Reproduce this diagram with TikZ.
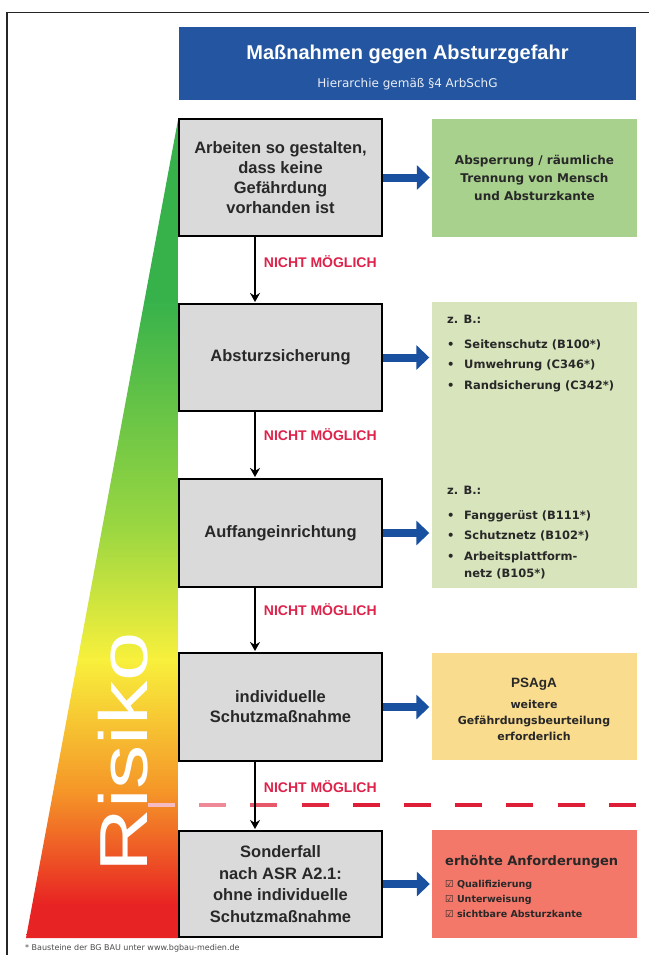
\documentclass[tikz,border=0pt]{standalone}
\usepackage{fontspec}
\setmainfont{Liberation Sans}
\newfontfamily\verdana{DejaVu Sans}
\usetikzlibrary{arrows.meta}
\definecolor{titleblue}{RGB}{35,85,160}
\definecolor{boxgray}{RGB}{218,218,218}
\definecolor{txtgray}{RGB}{40,40,40}
\definecolor{okgreen}{RGB}{169,209,142}
\definecolor{palegreen}{RGB}{216,228,188}
\definecolor{paleyellow}{RGB}{250,220,142}
\definecolor{salmon}{RGB}{244,120,105}
\definecolor{nogored}{RGB}{222,35,75}
\definecolor{dashred}{RGB}{222,30,55}
\definecolor{arrowblue}{RGB}{25,80,160}
\definecolor{rgreen}{RGB}{55,178,75}
\definecolor{rlime}{RGB}{155,215,65}
\definecolor{ryellow}{RGB}{248,240,60}
\definecolor{rorange}{RGB}{245,150,40}
\definecolor{rred}{RGB}{232,35,35}
\pgfdeclareverticalshading{risk}{100bp}{color(0bp)=(rred); color(27bp)=(rred); color(34bp)=(rorange); color(42bp)=(ryellow); color(50bp)=(rlime); color(64bp)=(rgreen); color(100bp)=(rgreen)}

\begin{document}
\begin{tikzpicture}[x=1pt,y=-1pt,>={Stealth[length=9pt,width=10pt]},
		stepbox/.style={draw=black,line width=2.4pt,fill=boxgray,text=txtgray,minimum width=202.6pt,inner sep=0pt,align=center,font=\bfseries\fontsize{16.5}{20}\selectfont},
		resultbox/.style={minimum width=205pt,inner sep=0pt,text=txtgray},
		smalltxt/.style={font=\verdana\bfseries\fontsize{11.5}{20.5}\selectfont,text=txtgray,inner sep=0pt,align=left},
		nogo/.style={text=nogored,font=\bfseries\fontsize{14}{14}\selectfont,inner sep=0pt},
		downarrow/.style={->,line width=1.8pt,shorten >=1pt},
		bluearrow/.style={arrowblue,line width=8pt,-{Triangle[length=13pt,width=24pt]},shorten >=2pt}]
		\useasboundingbox (0,0) rectangle (649,955);
		\fill[white] (0,0) rectangle (649,955);
		\draw[line width=1.3pt,black!85] (7,955) -- (7,12.5) -- (649,12.5);
		% Risiko-Keil
		\shade[shading=risk] (178,120) -- (178,938) -- (26,938) -- cycle;
		\node[rotate=90,anchor=base west,inner sep=0pt,text=white] (risiko) at (147,873) {\scalebox{1.3}[1]{\fontsize{68}{68}\selectfont Risiko}};
		% Titel
		\node[fill=titleblue,minimum width=457pt,minimum height=73pt,inner sep=0pt] (titel) at (407.5,63.5) {};
		\node[anchor=base,text=white,font=\bfseries\fontsize{20}{20}\selectfont] (titeltext) at (407.5,60) {Maßnahmen gegen Absturzgefahr};
		\node[anchor=base,text=white!90!titleblue,font=\verdana\fontsize{12}{12}\selectfont] (untertitel) at (407.5,88) {Hierarchie gemäß §4 ArbSchG};
		% Stufen
		\node[stepbox,minimum height=116.6pt] (gestalten) at (280.5,177.5) {Arbeiten so gestalten,\\dass keine\\Gefährdung\\vorhanden ist};
		\node[stepbox,minimum height=106.6pt] (sicherung) at (280.5,357.5) {Absturzsicherung};
		\node[stepbox,minimum height=107.6pt] (auffang) at (280.5,533) {Auffangeinrichtung};
		\node[stepbox,minimum height=107.6pt] (individuell) at (280.5,707) {individuelle\\Schutzmaßnahme};
		\node[stepbox,minimum height=105.6pt,font=\bfseries\fontsize{16.5}{21.5}\selectfont] (sonderfall) at (280.5,884) {Sonderfall\\nach ASR A2.1:\\ohne individuelle\\Schutzmaßnahme};
		% Ergebnisse
		\node[resultbox,fill=okgreen,minimum height=118pt,align=center,font=\verdana\bfseries\fontsize{12}{18.3}\selectfont] (trennung) at (534.5,178) {Absperrung / räumliche\\Trennung von Mensch\\und Absturzkante};
		\node[resultbox,fill=palegreen,minimum height=286pt] (beispiele) at (534,445) {};
		\node[smalltxt,anchor=base west] (zb-sicherung) at (447,389) {z. B.:\\[4.5pt]
			\makebox[17pt][l]{\textbullet}Seitenschutz (B100*)\\
			\makebox[17pt][l]{\textbullet}Umwehrung (C346*)\\
			\makebox[17pt][l]{\textbullet}Randsicherung (C342*)};
		\node[smalltxt,anchor=base west] (zb-auffang) at (447,577) {z. B.:\\[4.5pt]
			\makebox[17pt][l]{\textbullet}Fanggerüst (B111*)\\
			\makebox[17pt][l]{\textbullet}Schutznetz (B102*)\\
			\makebox[17pt][l]{\textbullet}Arbeitsplattform-\\[-3.5pt]
			\makebox[17pt][l]{}netz (B105*)};
		\node[resultbox,fill=paleyellow,minimum height=107pt] (psaga) at (534,706.5) {};
		\node[anchor=base,inner sep=0pt,text=txtgray,font=\bfseries\fontsize{13.5}{13.5}\selectfont] (psaga-titel) at (534,687) {PSAgA};
		\node[smalltxt,anchor=base,align=center,font=\verdana\bfseries\fontsize{11}{16}\selectfont] (psaga-text) at (534,740) {weitere\\Gefährdungsbeurteilung\\erforderlich};
		\node[resultbox,fill=salmon,minimum height=108pt] (anforderung) at (534.5,884) {};
		\node[smalltxt,anchor=base west,font=\verdana\bfseries\fontsize{9.5}{15}\selectfont] (anforderung-text) at (445,917) {{\fontsize{13}{15}\selectfont erhöhte Anforderungen}\\[7pt]
			{\mdseries ☑} Qualifizierung\\
			{\mdseries ☑} Unterweisung\\
			{\mdseries ☑} sichtbare Absturzkante};
		% Pfeile
		\draw[bluearrow] (gestalten.east) -- (gestalten.east -| trennung.west);
		\draw[bluearrow] (sicherung.east) -- (sicherung.east -| beispiele.west);
		\draw[bluearrow] (auffang.east) -- (auffang.east -| beispiele.west);
		\draw[bluearrow] (individuell.east) -- (individuell.east -| psaga.west);
		\draw[bluearrow] (sonderfall.east) -- (sonderfall.east -| anforderung.west);
		% Grenze
		\foreach \i in {0,...,9}{
			\pgfmathtruncatemacro\mix{min(100,30+22*\i)}
			\draw[dashred!\mix!white,line width=3.5pt] (148+51.2*\i,805) -- ++(27,0);
		}
		\coordinate (achse) at (255,0);
		\draw[downarrow] (gestalten.south -| achse) -- (sicherung.north -| achse) node[nogo,pos=0.37,right=8pt] (nm1) {NICHT MÖGLICH};
		\draw[downarrow] (sicherung.south -| achse) -- (auffang.north -| achse) node[nogo,pos=0.34,right=8pt] (nm2) {NICHT MÖGLICH};
		\draw[downarrow] (auffang.south -| achse) -- (individuell.north -| achse) node[nogo,pos=0.34,right=8pt] (nm3) {NICHT MÖGLICH};
		\draw[downarrow] (individuell.south -| achse) -- (sonderfall.north -| achse) node[nogo,pos=0.36,right=8pt] (nm4) {NICHT MÖGLICH};
		\node[anchor=base west,inner sep=0pt,text=black!70,font=\verdana\fontsize{8}{8}\selectfont] (fussnote) at (25,950) {* Bausteine der BG BAU unter www.bgbau-medien.de};
\end{tikzpicture}
\end{document}
